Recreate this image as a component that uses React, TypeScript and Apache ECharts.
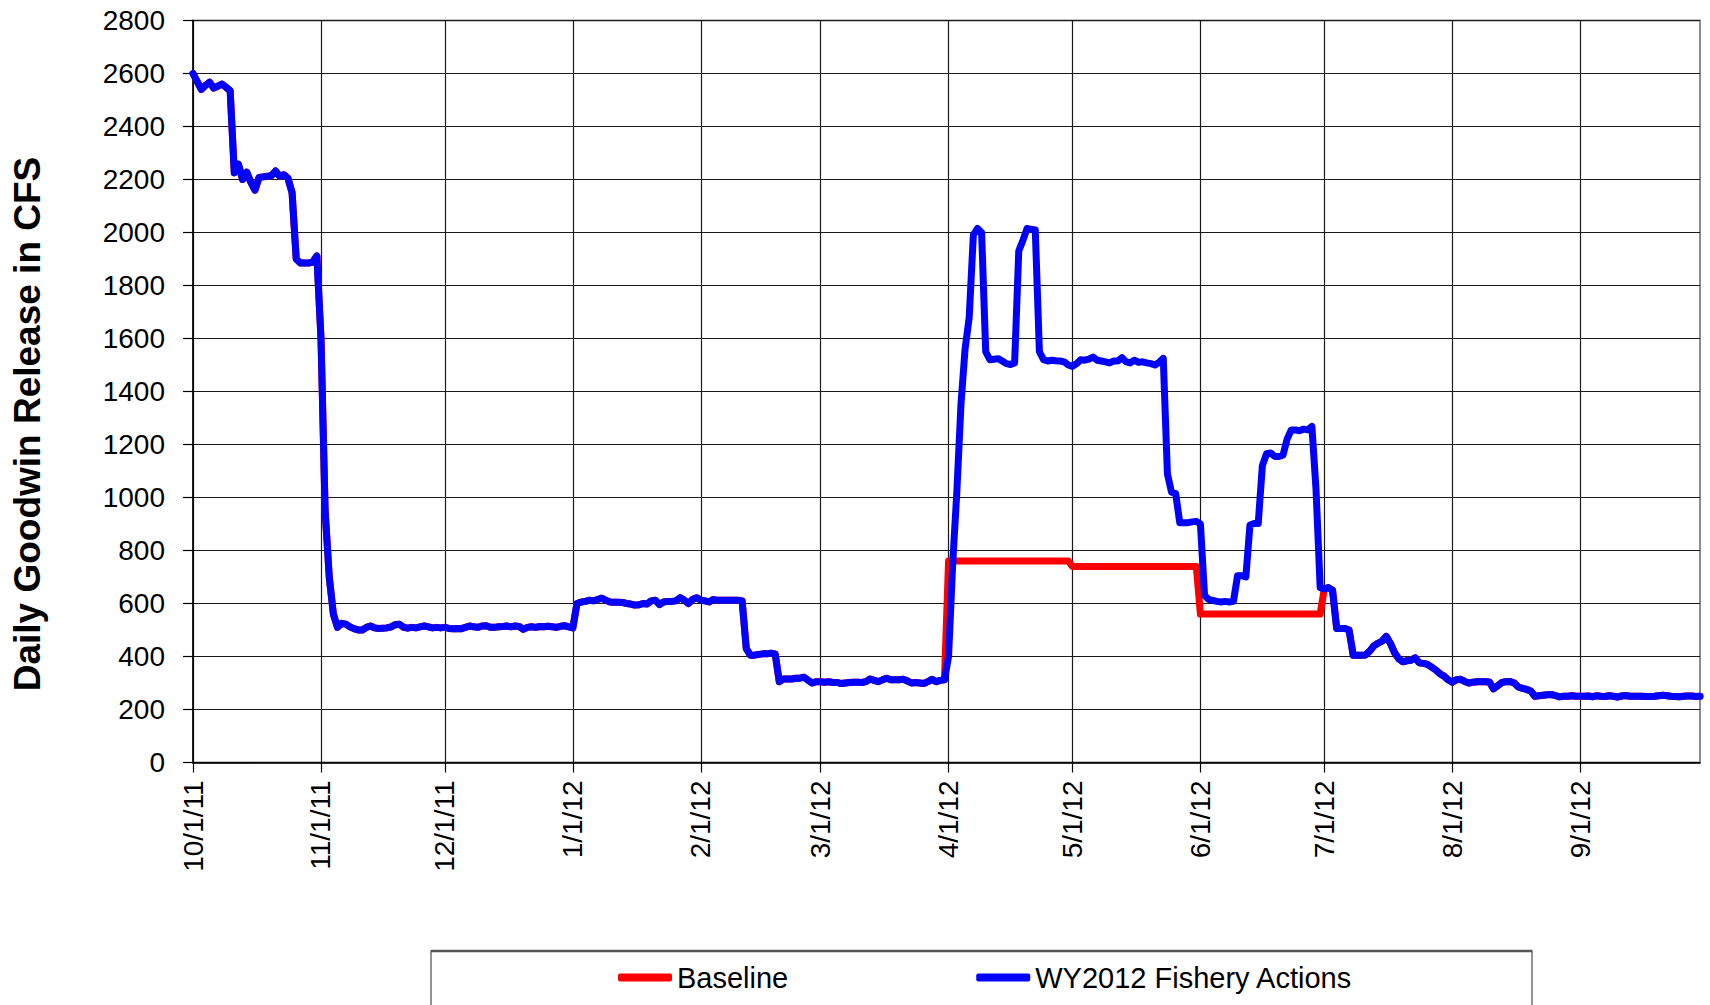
import React, { useEffect, useRef } from "react";
import * as echarts from "echarts";

// Tick labels (first day of each month)
const MONTH_LABELS = [
  "10/1/11", "11/1/11", "12/1/11", "1/1/12", "2/1/12", "3/1/12",
  "4/1/12", "5/1/12", "6/1/12", "7/1/12", "8/1/12", "9/1/12",
];

// Daily Goodwin release (CFS), WY2012 Fishery Actions, one array per month
const FLOW_OCT = [2600, 2570, 2540, 2555, 2567, 2545, 2552, 2560, 2548, 2535, 2225, 2258, 2200, 2228, 2190, 2160, 2208, 2210, 2212, 2215, 2232, 2212, 2218, 2205, 2150, 1900, 1885, 1885, 1885, 1888, 1912];
const FLOW_NOV = [1600, 950, 700, 560, 510, 525, 522, 512, 505, 500, 500, 510, 515, 508, 506, 507, 508, 512, 520, 522, 510, 507, 510, 508, 512, 515, 512, 508, 510, 508];
const FLOW_DEC = [510, 506, 505, 506, 505, 510, 515, 512, 510, 515, 516, 510, 510, 512, 513, 515, 512, 515, 513, 503, 510, 512, 510, 513, 512, 514, 512, 510, 514, 516, 512];
const FLOW_JAN = [508, 600, 605, 608, 612, 610, 615, 620, 612, 606, 605, 605, 604, 600, 598, 594, 595, 600, 598, 610, 612, 596, 606, 608, 608, 610, 622, 612, 600, 615, 622];
const FLOW_FEB = [612, 610, 606, 615, 612, 612, 612, 612, 612, 612, 610, 430, 405, 405, 408, 410, 410, 412, 410, 305, 315, 315, 315, 318, 318, 322, 310, 300, 305];
const FLOW_MAR = [305, 303, 305, 302, 302, 298, 300, 302, 303, 303, 302, 305, 315, 310, 305, 312, 318, 312, 312, 312, 314, 308, 300, 302, 300, 298, 305, 314, 305, 310, 312];
const FLOW_APR = [400, 750, 1020, 1350, 1560, 1680, 1990, 2015, 2000, 1550, 1520, 1522, 1524, 1515, 1505, 1502, 1508, 1930, 1970, 2015, 2012, 2010, 1550, 1520, 1515, 1518, 1516, 1515, 1512, 1500];
const FLOW_MAY = [1495, 1505, 1520, 1518, 1522, 1530, 1518, 1515, 1512, 1508, 1515, 1515, 1528, 1512, 1508, 1518, 1510, 1512, 1508, 1505, 1500, 1510, 1525, 1090, 1020, 1015, 905, 905, 905, 908, 910];
const FLOW_JUN = [900, 630, 615, 612, 608, 606, 608, 606, 608, 705, 705, 700, 896, 902, 902, 1120, 1165, 1168, 1155, 1155, 1160, 1220, 1255, 1255, 1252, 1258, 1255, 1268, 1030, 660];
const FLOW_JUL = [655, 660, 650, 506, 506, 506, 500, 405, 405, 405, 406, 420, 440, 450, 458, 476, 450, 415, 392, 380, 384, 386, 395, 376, 374, 370, 360, 349, 335, 326, 312];
const FLOW_AUG = [303, 312, 314, 306, 300, 303, 305, 306, 305, 304, 278, 290, 302, 305, 306, 300, 285, 280, 276, 270, 250, 252, 254, 256, 257, 252, 248, 250, 250, 252, 250];
const FLOW_SEP = [250, 250, 251, 248, 252, 250, 249, 252, 250, 247, 251, 253, 250, 250, 250, 250, 249, 249, 250, 252, 254, 252, 250, 249, 248, 250, 251, 251, 249, 250];

// Baseline months that differ from the Fishery Actions run
const BASE_APR = [760, 760, 760, 760, 760, 760, 760, 760, 760, 760, 760, 760, 760, 760, 760, 760, 760, 760, 760, 760, 760, 760, 760, 760, 760, 760, 760, 760, 760, 760];
const BASE_MAY = [740, 740, 740, 740, 740, 740, 740, 740, 740, 740, 740, 740, 740, 740, 740, 740, 740, 740, 740, 740, 740, 740, 740, 740, 740, 740, 740, 740, 740, 740, 740];
const BASE_JUN = [560, 560, 560, 560, 560, 560, 560, 560, 560, 560, 560, 560, 560, 560, 560, 560, 560, 560, 560, 560, 560, 560, 560, 560, 560, 560, 560, 560, 560, 560];

const ACTION_MONTHS = [FLOW_OCT, FLOW_NOV, FLOW_DEC, FLOW_JAN, FLOW_FEB, FLOW_MAR, FLOW_APR, FLOW_MAY, FLOW_JUN, FLOW_JUL, FLOW_AUG, FLOW_SEP];
const BASELINE_MONTHS = [FLOW_OCT, FLOW_NOV, FLOW_DEC, FLOW_JAN, FLOW_FEB, FLOW_MAR, BASE_APR, BASE_MAY, BASE_JUN, FLOW_JUL, FLOW_AUG, FLOW_SEP];

const SERIES_NAMES = ["Baseline", "WY2012 Fishery Actions"];
const Y_TITLE = "Daily Goodwin Release in CFS";

function toPoints(months: number[][]): [number, number][] {
  const out: [number, number][] = [];
  let d = 0;
  months.forEach((m) => m.forEach((v) => { out.push([d, v]); d += 1; }));
  return out;
}

const MONTH_STARTS: number[] = [];
let dayCount = 0;
ACTION_MONTHS.forEach((m) => { MONTH_STARTS.push(dayCount); dayCount += m.length; });
const LAST_DAY = dayCount - 1;

const FONT = '"Liberation Sans", Arial, Helvetica, sans-serif';

export default function App() {
  const ref = useRef<HTMLDivElement | null>(null);

  useEffect(() => {
    if (!ref.current) return;
    const chart = echarts.init(ref.current, undefined, { renderer: "svg" });
    const gridLine = { color: "#1a1a1a", width: 1.2 };
    chart.setOption({
      animation: false,
      backgroundColor: "#ffffff",
      grid: {
        left: 193, right: 10, top: 20.5, bottom: 242.5,
        show: true, borderColor: "#8c8c8c", borderWidth: 2, backgroundColor: "transparent",
        containLabel: false,
      },
      xAxis: {
        type: "value",
        min: 0,
        max: LAST_DAY,
        axisLine: { show: true, onZero: false, lineStyle: { color: "#000", width: 1.5 } },
        axisTick: { show: true, length: 10, customValues: MONTH_STARTS, lineStyle: { color: "#000", width: 1.2 } },
        axisLabel: {
          customValues: MONTH_STARTS,
          rotate: 90,
          margin: 18,
          fontSize: 28,
          fontFamily: FONT,
          color: "#000",
          formatter: (v: number) => {
            const i = MONTH_STARTS.indexOf(Math.round(v));
            return i >= 0 ? MONTH_LABELS[i] : "";
          },
        },
        splitLine: { show: true, lineStyle: gridLine },
      },
      yAxis: {
        type: "value",
        min: 0,
        max: 2800,
        interval: 200,
        axisLine: { show: true, lineStyle: { color: "#000", width: 1.5 } },
        axisTick: { show: true, length: 10, lineStyle: { color: "#000", width: 1.2 } },
        axisLabel: {
          margin: 28, fontSize: 28, fontFamily: FONT, color: "#000",
          formatter: (v: number) => String(Math.round(v)),
        },
        splitLine: { show: true, lineStyle: gridLine },
      },
      legend: {
        data: SERIES_NAMES,
        left: 618,
        top: 963,
        padding: 0,
        itemGap: 188,
        itemWidth: 54,
        itemHeight: 8,
        icon: "roundRect",
        textStyle: { fontSize: 29, fontFamily: FONT, color: "#000" },
      },
      graphic: [
        {
          type: "text",
          x: 27.5,
          y: 424,
          rotation: Math.PI / 2,
          style: {
            text: Y_TITLE,
            font: `bold 37px ${FONT}`,
            fill: "#000",
            textAlign: "center",
            textVerticalAlign: "middle",
            align: "center",
            verticalAlign: "middle",
          },
        },
        {
          type: "rect",
          shape: { x: 431, y: 951, width: 1101, height: 90 },
          style: { fill: "none", stroke: "#707070", lineWidth: 1.5 },
        },
        {
          type: "line",
          shape: { x1: 431, y1: 951, x2: 1532, y2: 951 },
          style: { stroke: "#555", lineWidth: 2.5 },
        },
      ],
      series: [
        {
          name: SERIES_NAMES[0],
          type: "line",
          data: toPoints(BASELINE_MONTHS),
          showSymbol: false,
          symbol: "none",
          color: "#ff0000",
          lineStyle: { color: "#ff0000", width: 7, join: "round", cap: "round" },
          z: 2,
        },
        {
          name: SERIES_NAMES[1],
          type: "line",
          data: toPoints(ACTION_MONTHS),
          showSymbol: false,
          symbol: "none",
          color: "#0000ff",
          lineStyle: { color: "#0000ff", width: 7, join: "round", cap: "round" },
          z: 3,
        },
      ],
    });
    return () => chart.dispose();
  }, []);

  return (
    <div
      ref={ref}
      style={{ position: "absolute", left: 0, top: 0, width: 1710, height: 1005, background: "#fff" }}
    />
  );
}
